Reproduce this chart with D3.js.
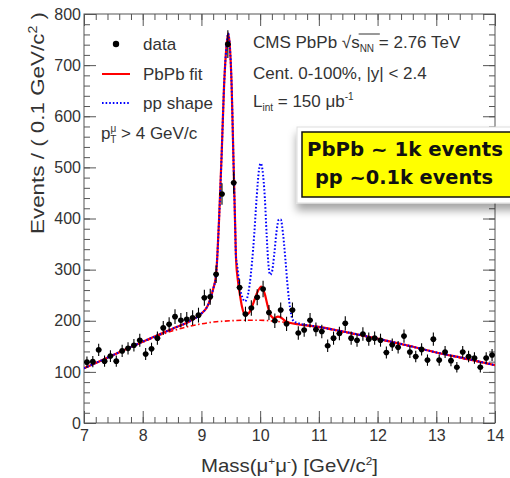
<!DOCTYPE html>
<html>
<head>
<meta charset="utf-8">
<script src="https://cdn.jsdelivr.net/npm/d3@7"></script>
<style>
body { margin: 0; background: #fff; }
svg text { font-family: "Liberation Sans", Arial, sans-serif; fill: #333; }
</style>
</head>
<body>
<script>
// Size and frame
const w = 510;
const h = 478;
const padding = { top: 14, bottom: 55, right: 15, left: 84 };

// Data: dimuon mass bins (GeV/c^2) and counts per 0.1 GeV/c^2
const binCenters = [
	7.05, 7.15, 7.25, 7.35, 7.45, 7.55, 7.65, 7.75, 7.85, 7.95,
	8.05, 8.15, 8.25, 8.35, 8.45, 8.55, 8.65, 8.75, 8.85, 8.95,
	9.05, 9.15, 9.25, 9.35, 9.45, 9.55, 9.65, 9.75, 9.85, 9.95,
	10.05, 10.15, 10.25, 10.35, 10.45, 10.55, 10.65, 10.75, 10.85, 10.95,
	11.05, 11.15, 11.25, 11.35, 11.45, 11.55, 11.65, 11.75, 11.85, 11.95,
	12.05, 12.15, 12.25, 12.35, 12.45, 12.55, 12.65, 12.75, 12.85, 12.95,
	13.05, 13.15, 13.25, 13.35, 13.45, 13.55, 13.65, 13.75, 13.85, 13.95
];
const counts = [
	119, 120, 143, 121, 131, 121, 141, 146, 152, 162,
	135, 145, 166, 186, 193, 208, 201, 203, 206, 211,
	245, 247, 291, 448, 741, 470, 265, 213, 225, 246,
	262, 216, 200, 221, 194, 221, 176, 182, 201, 183,
	179, 151, 166, 175, 195, 166, 162, 174, 164, 166,
	162, 138, 153, 148, 170, 139, 130, 144, 123, 164,
	123, 139, 122, 109, 139, 130, 127, 109, 127, 133
];

// PbPb fit (solid red)
const fitMass = [7.0, 7.5, 8.0, 8.5, 8.8, 9.0, 9.1, 9.15, 9.2, 9.25, 9.27, 9.3, 9.345, 9.385, 9.425, 9.455, 9.485, 9.515, 9.543, 9.572, 9.59, 9.62, 9.65, 9.69, 9.74, 9.8, 9.87, 9.95, 10.02, 10.08, 10.13, 10.18, 10.24, 10.3, 10.36, 10.42, 10.5, 11.0, 11.5, 12.0, 12.5, 13.0, 13.5, 14.0];
const fitVal = [107, 133, 159, 184, 199, 214, 228, 242, 262, 290, 325, 397, 527, 658, 735, 762, 735, 658, 527, 397, 320, 280, 255, 228, 212, 214, 230, 255, 267, 252, 228, 210, 205, 208, 206, 200, 196, 188, 177, 165, 152, 138, 126, 113];

// Background (red dash-dot)
const bkgMass = [7.0, 7.25, 7.5, 7.75, 8.0, 8.25, 8.5, 8.75, 9.0, 9.25, 9.5, 9.75, 10.0, 10.25, 10.5, 10.75, 11.0, 11.5, 12.0, 12.5, 13.0, 13.5, 14.0];
const bkgVal = [107, 120, 133, 146, 158, 170, 180, 188, 194, 198, 200, 201, 201, 199, 196, 192, 187, 176, 164, 151, 138, 125, 113];

// pp shape (blue dotted) where it departs from the PbPb fit
const ppMass = [9.6, 9.65, 9.7, 9.74, 9.78, 9.82, 9.86, 9.9, 9.94, 9.98, 10.01, 10.04, 10.08, 10.11, 10.14, 10.17, 10.2, 10.24, 10.28, 10.32, 10.35, 10.39, 10.43, 10.47, 10.51, 10.55, 10.6];
const ppVal = [315, 268, 245, 238, 245, 270, 312, 370, 440, 495, 508, 495, 440, 370, 312, 290, 295, 330, 375, 398, 398, 370, 320, 265, 225, 203, 197];

// Axis ticks
const xTicks = [7, 8, 9, 10, 11, 12, 13, 14];
const yTicks = [0, 100, 200, 300, 400, 500, 600, 700, 800];

const svg = d3.select("body").append("svg").attr("width", w).attr("height", h);

const defs = svg.append("defs");
defs.append("clipPath").attr("id", "plotclip")
	.append("rect")
	.attr("x", padding.left).attr("y", padding.top)
	.attr("width", w - padding.left - padding.right)
	.attr("height", h - padding.top - padding.bottom);
const shadow = defs.append("filter").attr("id", "shadow")
	.attr("x", "-10%").attr("y", "-10%").attr("width", "130%").attr("height", "160%");
shadow.append("feDropShadow")
	.attr("dx", 0).attr("dy", 7).attr("stdDeviation", 4)
	.attr("flood-color", "#000").attr("flood-opacity", 0.35);

// Scales
const xScale = d3.scaleLinear().domain([7, 14]).range([padding.left, w - padding.right]);
const yScale = d3.scaleLinear().domain([0, 800]).range([h - padding.bottom, padding.top]);

const x0 = padding.left, x1 = w - padding.right;
const y0 = h - padding.bottom, y1 = padding.top;

// Axes (ticks point inward, like ROOT)
function styleAxis(g) {
	g.select(".domain").remove();
	g.selectAll(".tick line").attr("stroke", "#555");
	g.selectAll("text").attr("fill", "#333").style("font-size", "16px").attr("font-family", null);
}
const xMinor = d3.range(7, 14.001, 0.2);
const yMinor = d3.range(0, 800.1, 20);

svg.append("g").attr("transform", `translate(0,${y0})`)
	.call(d3.axisBottom(xScale).tickValues(xMinor).tickSize(-6).tickFormat("")).call(styleAxis);
svg.append("g").attr("transform", `translate(0,${y0})`)
	.call(d3.axisBottom(xScale).tickValues(xTicks).tickSize(-12).tickPadding(7).tickFormat(d3.format("d"))).call(styleAxis);
svg.append("g").attr("transform", `translate(0,${y1})`)
	.call(d3.axisTop(xScale).tickValues(xMinor).tickSize(-6).tickFormat("")).call(styleAxis);
svg.append("g").attr("transform", `translate(0,${y1})`)
	.call(d3.axisTop(xScale).tickValues(xTicks).tickSize(-12).tickFormat("")).call(styleAxis);

svg.append("g").attr("transform", `translate(${x0},0)`)
	.call(d3.axisLeft(yScale).tickValues(yMinor).tickSize(-6).tickFormat("")).call(styleAxis);
svg.append("g").attr("transform", `translate(${x0},0)`)
	.call(d3.axisLeft(yScale).tickValues(yTicks).tickSize(-12).tickPadding(3).tickFormat(d3.format("d"))).call(styleAxis);
svg.append("g").attr("transform", `translate(${x1},0)`)
	.call(d3.axisRight(yScale).tickValues(yMinor).tickSize(-6).tickFormat("")).call(styleAxis);
svg.append("g").attr("transform", `translate(${x1},0)`)
	.call(d3.axisRight(yScale).tickValues(yTicks).tickSize(-12).tickFormat("")).call(styleAxis);

svg.append("rect")
	.attr("x", x0).attr("y", y1).attr("width", x1 - x0).attr("height", y0 - y1)
	.attr("fill", "none").attr("stroke", "#555").attr("stroke-width", 1);

// Curves
const plot = svg.append("g").attr("clip-path", "url(#plotclip)");
const line = d3.line()
	.x((d) => xScale(d[0]))
	.y((d) => yScale(d[1]))
	.curve(d3.curveMonotoneX);

const fitPts = fitMass.map((m, i) => [m, fitVal[i]]);
const bkgPts = bkgMass.map((m, i) => [m, bkgVal[i]]);
const ppPts = fitPts.filter((d) => d[0] < ppMass[0])
	.concat(ppMass.map((m, i) => [m, ppVal[i]]))
	.concat(fitPts.filter((d) => d[0] > ppMass[ppMass.length - 1]));

plot.append("path").datum(bkgPts).attr("d", line)
	.attr("fill", "none").attr("stroke", "#ff0000").attr("stroke-width", 1.6)
	.attr("stroke-dasharray", "5,2.5,1.5,2.5");
plot.append("path").datum(fitPts).attr("d", line)
	.attr("fill", "none").attr("stroke", "#ff0000").attr("stroke-width", 2.2);
plot.append("path").datum(ppPts).attr("d", line)
	.attr("fill", "none").attr("stroke", "#0000ff").attr("stroke-width", 2)
	.attr("stroke-dasharray", "1.6,2");

// Data points with errors
const pts = plot.selectAll(".pt").data(binCenters.map((m, i) => ({ m, n: counts[i] })))
	.enter().append("g").attr("class", "pt");
pts.append("line")
	.attr("x1", (d) => xScale(d.m)).attr("x2", (d) => xScale(d.m))
	.attr("y1", (d) => yScale(d.n - Math.sqrt(d.n))).attr("y2", (d) => yScale(d.n + Math.sqrt(d.n)))
	.attr("stroke", "#000").attr("stroke-width", 1.1);
pts.append("line")
	.attr("x1", (d) => xScale(d.m - 0.05)).attr("x2", (d) => xScale(d.m + 0.05))
	.attr("y1", (d) => yScale(d.n)).attr("y2", (d) => yScale(d.n))
	.attr("stroke", "#000").attr("stroke-width", 1.1);
pts.append("circle")
	.attr("cx", (d) => xScale(d.m)).attr("cy", (d) => yScale(d.n))
	.attr("r", 2.8).attr("fill", "#000");

// Axis titles
svg.append("text")
	.attr("x", (x0 + x1) / 2).attr("y", 472)
	.attr("text-anchor", "middle").style("font-size", "19px")
	.attr("textLength", 177).attr("lengthAdjust", "spacingAndGlyphs")
	.html('Mass(μ<tspan dy="-7" font-size="11">+</tspan><tspan dy="7">μ</tspan><tspan dy="-7" font-size="11">-</tspan><tspan dy="7">) [GeV/c</tspan><tspan dy="-7" font-size="11">2</tspan><tspan dy="7">]</tspan>');

svg.append("text")
	.attr("transform", "translate(44,12) rotate(-90)")
	.attr("text-anchor", "end").style("font-size", "19px")
	.attr("textLength", 222).attr("lengthAdjust", "spacingAndGlyphs")
	.html('Events / ( 0.1 GeV/c<tspan dy="-7" font-size="12">2</tspan><tspan dy="7"> )</tspan>');

// Legend
const legend = svg.append("g");
legend.append("circle").attr("cx", 116).attr("cy", 44).attr("r", 3.2).attr("fill", "#000");
legend.append("line").attr("x1", 102).attr("x2", 130).attr("y1", 74).attr("y2", 74)
	.attr("stroke", "#ff0000").attr("stroke-width", 2);
legend.append("line").attr("x1", 102).attr("x2", 130).attr("y1", 103).attr("y2", 103)
	.attr("stroke", "#0000ff").attr("stroke-width", 2).attr("stroke-dasharray", "1.6,2");
legend.append("text").attr("x", 143).attr("y", 50).style("font-size", "17px").text("data");
legend.append("text").attr("x", 143).attr("y", 80).style("font-size", "17px").text("PbPb fit");
legend.append("text").attr("x", 143).attr("y", 109).style("font-size", "17px").text("pp shape");
legend.append("text").attr("x", 101).attr("y", 139).style("font-size", "17px")
	.html('p<tspan dy="-7" font-size="10">μ</tspan><tspan dx="-6" dy="11" font-size="10">T</tspan><tspan dy="-4"> &gt; 4 GeV/c</tspan>');

// CMS labels
const cms = svg.append("text").attr("x", 253).attr("y", 48).style("font-size", "17px")
	.html('CMS PbPb  √<tspan>s</tspan><tspan dy="4" font-size="10">NN</tspan><tspan dy="-4"> = 2.76 TeV</tspan>');
svg.append("text").attr("x", 253).attr("y", 79).style("font-size", "17px").text("Cent. 0-100%, |y| < 2.4");
svg.append("text").attr("x", 253).attr("y", 107).style("font-size", "17px")
	.html('L<tspan dy="4" font-size="10">int</tspan><tspan dy="-4"> = 150 μb</tspan><tspan dy="-7" font-size="10">-1</tspan>');

// radical bar over s_NN
const cmsNode = cms.node();
const full = cmsNode.textContent;
const iS = full.indexOf("√");
const eS = cmsNode.getExtentOfChar(iS);
const eN = cmsNode.getExtentOfChar(iS + 3);
svg.append("line")
	.attr("x1", eS.x + eS.width - 1).attr("x2", eN.x + eN.width + 1)
	.attr("y1", eS.y + 1).attr("y2", eS.y + 1)
	.attr("stroke", "#333").attr("stroke-width", 1);

// Annotation box
const note = svg.append("g");
note.append("rect").attr("x", 297).attr("y", 127).attr("width", 225).attr("height", 76)
	.attr("fill", "#fff").attr("stroke", "#ddd").attr("filter", "url(#shadow)");
note.append("rect").attr("x", 302).attr("y", 132).attr("width", 220).attr("height", 65)
	.attr("fill", "#ffff00").attr("stroke", "#111").attr("stroke-width", 1.5);
note.append("text").attr("x", 405).attr("y", 156).attr("text-anchor", "middle")
	.attr("textLength", 196).attr("lengthAdjust", "spacingAndGlyphs")
	.style("font-size", "20px").style("font-family", "DejaVu Sans").style("font-weight", "bold").style("fill", "#111")
	.text("PbPb ~ 1k events");
note.append("text").attr("x", 404).attr("y", 184).attr("text-anchor", "middle")
	.attr("textLength", 178).attr("lengthAdjust", "spacingAndGlyphs")
	.style("font-size", "20px").style("font-family", "DejaVu Sans").style("font-weight", "bold").style("fill", "#111")
	.text("pp ~0.1k events");
</script>
</body>
</html>
